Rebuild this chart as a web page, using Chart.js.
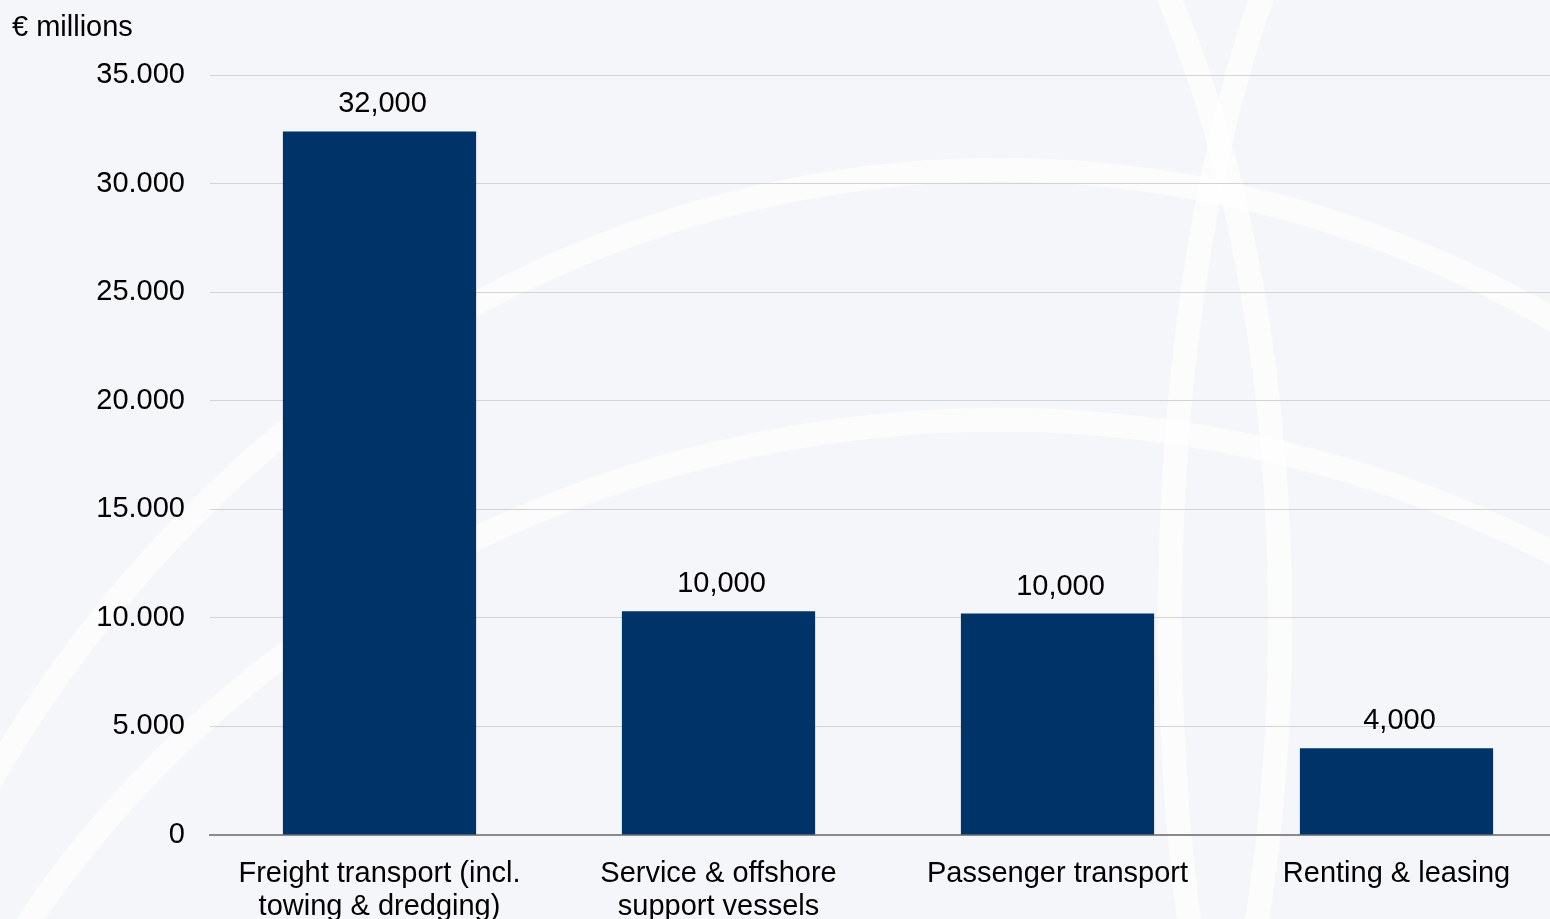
<!DOCTYPE html>
<html>
<head>
<meta charset="utf-8">
<script src="https://cdn.jsdelivr.net/npm/chart.js@4.4.1/dist/chart.umd.min.js"></script>
<style>
  html, body { margin: 0; padding: 0; overflow: hidden; background: #f5f6f9; }
  #wrap { width: 1566px; height: 919px; position: relative; }
</style>
</head>
<body>
<div id="wrap"><canvas id="sectorChart"></canvas></div>
<script>
const categories = [
  ["Freight transport (incl.", "towing & dredging)"],
  ["Service & offshore", "support vessels"],
  ["Passenger transport"],
  ["Renting & leasing"]
];
const turnover = [32400, 10300, 10200, 4000];
const yTicks = [0, 5000, 10000, 15000, 20000, 25000, 30000, 35000];
const unitLabel = "€ millions";

const FONT = "'Liberation Sans', Arial, sans-serif";

function dotThousands(v) {
  return String(v).replace(/\B(?=(\d{3})+(?!\d))/g, ".");
}
function commaThousands(v) {
  return String(v).replace(/\B(?=(\d{3})+(?!\d))/g, ",");
}

// faint globe lines behind the chart
const globeBackground = {
  id: "globeBackground",
  beforeDraw(chart) {
    const ctx = chart.ctx;
    ctx.save();
    ctx.fillStyle = "#f5f6f9";
    ctx.fillRect(0, 0, chart.width, chart.height);
    ctx.strokeStyle = "rgba(255,255,255,0.65)";
    ctx.lineWidth = 24;
    ctx.beginPath();
    ctx.ellipse(1000, 1500, 1200, 1330, 0, Math.PI * 1.05, Math.PI * 1.95);
    ctx.stroke();
    ctx.beginPath();
    ctx.ellipse(1000, 1500, 1150, 1080, 0, Math.PI * 1.05, Math.PI * 1.95);
    ctx.stroke();
    ctx.beginPath();
    ctx.ellipse(880, 620, 400, 900, 0, -Math.PI / 2, Math.PI / 2);
    ctx.stroke();
    ctx.beginPath();
    ctx.ellipse(1500, 620, 330, 900, 0, Math.PI / 2, Math.PI * 1.5);
    ctx.stroke();
    ctx.restore();
  },
  afterDraw(chart) {
    const ctx = chart.ctx;
    ctx.save();
    ctx.font = "29px " + FONT;
    ctx.fillStyle = "#000";
    ctx.textAlign = "left";
    ctx.textBaseline = "middle";
    ctx.fillText(unitLabel, 12, 28);
    ctx.restore();
  }
};

// rounded value labels above the bars
const valueLabels = {
  id: "valueLabels",
  afterDatasetsDraw(chart) {
    const ctx = chart.ctx;
    const meta = chart.getDatasetMeta(0);
    ctx.save();
    ctx.font = "29px " + FONT;
    ctx.fillStyle = "#000";
    ctx.textAlign = "center";
    ctx.textBaseline = "middle";
    meta.data.forEach((bar, i) => {
      const shown = Math.round(turnover[i] / 1000) * 1000;
      ctx.fillText(commaThousands(shown), bar.x + 3, bar.y - 27);
    });
    ctx.restore();
  }
};

new Chart(document.getElementById("sectorChart"), {
  type: "bar",
  data: {
    labels: categories,
    datasets: [{
      data: turnover,
      backgroundColor: "#003368",
      categoryPercentage: 1,
      barPercentage: 0.57
    }]
  },
  options: {
    responsive: true,
    maintainAspectRatio: false,
    animation: false,
    layout: { padding: { top: 75, right: 0, bottom: 0, left: 0 } },
    plugins: {
      legend: { display: false },
      tooltip: { enabled: false }
    },
    scales: {
      x: {
        grid: { display: false, drawTicks: false },
        border: { color: "#8a8a8a", width: 2 },
        ticks: {
          color: "#000",
          font: { family: FONT, size: 29, lineHeight: 1.14 },
          padding: 22,
          maxRotation: 0,
          autoSkip: false
        },
        afterFit(scale) { scale.height = 84; }
      },
      y: {
        min: 0,
        max: 35000,
        afterBuildTicks(scale) {
          scale.ticks = yTicks.map(v => ({ value: v }));
        },
        grid: { color: "#d3d3d3", lineWidth: 1, drawTicks: false },
        border: { display: false },
        ticks: {
          color: "#000",
          font: { family: FONT, size: 29 },
          padding: 25,
          callback: v => dotThousands(v)
        },
        afterFit(scale) { scale.width = 210; }
      }
    }
  },
  plugins: [globeBackground, valueLabels]
});
</script>
</body>
</html>
